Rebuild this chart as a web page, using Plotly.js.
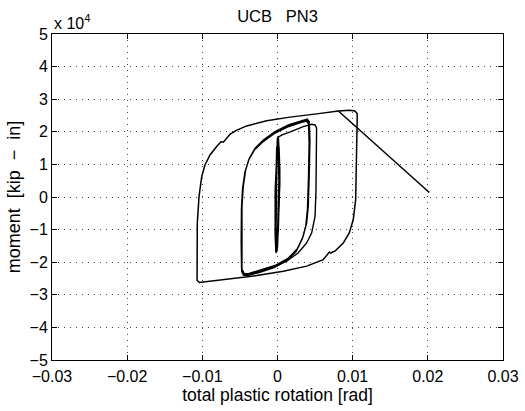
<!DOCTYPE html>
<html>
<head>
<meta charset="utf-8">
<script src="https://cdn.plot.ly/plotly-3.0.1.min.js"></script>
<style>html,body{margin:0;padding:0;background:#fff;}#chart{width:525px;height:411px;}</style>
</head>
<body>
<div id="chart"></div>
<script>
// total plastic rotation [rad] and moment [x 10^4 kip-in]
// small elastic cycles near zero
var spikeX = [-0.0002, 0.0000, 0.0002, 0.0003, 0.0002, 0.0001, -0.0001, -0.0002, -0.0003, -0.0003, -0.0002,
              -0.0001, 0.0001, 0.0002, 0.0003, 0.0002, 0.0000, -0.0001, -0.0003, -0.0003, -0.0002, -0.0001,
              0.0000, 0.0001, 0.00025, 0.00025, 0.0001, -0.0001, -0.0002, -0.00025, -0.0002, -0.0001,
              0.0000, 0.0001, 0.0002, 0.0001, 0.0000, -0.0001, -0.0002, -0.0002, -0.0001,
              0.0000, 0.0001, 0.0003, 0.0002, 0.0001];
var spikeY = [-1.72, -1.20, -0.30, 0.60, 1.40, 1.85, 1.30, 0.50, -0.40, -1.20, -1.70,
              -1.65, -1.00, -0.10, 0.80, 1.50, 1.82, 1.20, 0.20, -0.80, -1.45, -1.68,
              -1.50, -0.80, 0.20, 1.00, 1.70, 1.50, 0.80, -0.20, -1.10, -1.60,
              -1.30, -0.40, 0.50, 1.40, 1.80, 1.00, 0.00, -0.90, -1.55,
              -1.40, -0.60, 0.40, 1.30, 1.84];
// first cycle at ~0.005 rad
var loopBX = [0.0001, 0.00055, 0.0017, 0.00343, 0.00455, 0.0050, 0.0052, 0.0052, 0.00512, 0.0050, 0.00485, 0.0048, 0.00455,
              0.00388, 0.00277, 0.00122, -0.00056, -0.00233, -0.00388, -0.0044, -0.0047];
var loopBY = [1.84, 1.90, 2.00, 2.16, 2.23, 2.21, 2.11, 1.24, 0.22, -0.59, -0.80, -0.86, -1.10,
              -1.41, -1.71, -1.97, -2.15, -2.28, -2.38, -2.37, -2.24];
// repeated cycles at ~0.0045 rad
var loopAX = [-0.00472, -0.00476, -0.00472, -0.00455, -0.00423, -0.00375, -0.00299, -0.00189, -0.00033, 0.00144, 0.00322, 0.00396, 0.00423,
              0.00432, 0.00423, 0.00410, 0.00388, 0.00343, 0.00263, 0.00144, -0.00033, -0.00233, -0.00388, -0.00445, -0.00472,
              -0.00480, -0.00478, -0.00462, -0.00430, -0.00382, -0.00306, -0.00196, -0.00040, 0.00136, 0.00315, 0.00390, 0.00416,
              0.00425, 0.00416, 0.00402, 0.00380, 0.00335, 0.00255, 0.00136, -0.00040, -0.00240, -0.00395, -0.00452, -0.00478,
              -0.00484, -0.00480, -0.00466, -0.00434, -0.00386, -0.00310, -0.00200, -0.00045, 0.00130, 0.00310, 0.00386, 0.00412,
              0.00420, 0.00412, 0.00398, 0.00376, 0.00330, 0.00250, 0.00130, -0.00045, -0.00245, -0.00398, -0.00455, -0.00480];
var loopAY = [-2.03, -1.31, -0.29, 0.32, 0.83, 1.19, 1.50, 1.75, 2.01, 2.21, 2.34, 2.39, 2.31,
              1.75, 0.73, -0.29, -0.80, -1.20, -1.59, -1.87, -2.10, -2.25, -2.35, -2.35, -2.22,
              -1.35, -0.33, 0.28, 0.79, 1.15, 1.46, 1.71, 1.97, 2.17, 2.31, 2.36, 2.28,
              1.70, 0.68, -0.34, -0.85, -1.25, -1.64, -1.92, -2.14, -2.29, -2.38, -2.38, -2.25,
              -1.38, -0.36, 0.25, 0.76, 1.12, 1.43, 1.68, 1.94, 2.14, 2.28, 2.33, 2.25,
              1.66, 0.64, -0.37, -0.88, -1.28, -1.67, -1.95, -2.17, -2.32, -2.41, -2.40, -2.27];
// large cycle at ~0.0105 rad
var outerX = [0.0081, 0.0096, 0.0103, 0.0106, 0.0106, 0.01053, 0.0104, 0.01008, 0.00955, 0.00875, 0.00765, 0.0074, 0.0071, 0.0069, 0.0066,
              0.00609, 0.00388, 0.00077, -0.00277, -0.00632, -0.00987, -0.0104, -0.0107, -0.0107, -0.01067, -0.01067, -0.01044,
              -0.01008, -0.00964, -0.00898, -0.00809, -0.0075, -0.0072, -0.0069, -0.0063, -0.0054, -0.0041, -0.00144, 0.00166, 0.00521, 0.0081];
var outerY = [2.64, 2.66, 2.64, 2.56, 2.40, 0.73, -0.08, -0.69, -1.10, -1.41, -1.66, -1.68, -1.72, -1.69, -1.79,
              -1.92, -2.12, -2.28, -2.41, -2.51, -2.61, -2.62, -2.56, -2.30, -1.61, -0.80, 0.02,
              0.63, 0.99, 1.29, 1.55, 1.70, 1.68, 1.76, 1.93, 2.05, 2.18, 2.34, 2.45, 2.55, 2.64];
// final drop
var failX = [0.0081, 0.0202];
var failY = [2.64, 0.14];

var xTicks = [-0.03, -0.02, -0.01, 0, 0.01, 0.02, 0.03];
var yTicks = [-5, -4, -3, -2, -1, 0, 1, 2, 3, 4, 5];

function tr(x, y, w) {
  return {x: x, y: y, type: 'scatter', mode: 'lines', line: {color: '#000', width: w}, hoverinfo: 'skip', showlegend: false};
}
var data = [tr(spikeX, spikeY, 1.6), tr(loopBX, loopBY, 1.4), tr(loopAX, loopAY, 1.3), tr(outerX, outerY, 1.5), tr(failX, failY, 1.5)];

var font = {family: 'Liberation Sans, Arial, Helvetica, sans-serif', size: 16, color: '#000'};
var axisCommon = {
  showline: true, mirror: 'ticks', linecolor: '#000', linewidth: 1,
  ticks: 'inside', ticklen: 5, tickcolor: '#000', tickwidth: 1,
  showgrid: true, gridcolor: '#444', griddash: '1px,5px', gridwidth: 1,
  zeroline: false, tickfont: font
};
var layout = {
  width: 525, height: 411,
  margin: {l: 52, r: 22, t: 34, b: 51},
  paper_bgcolor: '#fff', plot_bgcolor: '#fff',
  font: font,
  title: {text: 'UCB   PN3', font: {family: font.family, size: 16.5, color: '#000'}, x: 0.5, xref: 'paper', y: 0.96, yref: 'container', yanchor: 'middle'},
  xaxis: Object.assign({}, axisCommon, {range: [-0.03, 0.03], tickvals: xTicks, ticklabelstandoff: 2, ticktext: xTicks.map(function(v){return v === 0 ? '0' : (v < 0 ? '\u2212' + (-v).toFixed(2) : v.toFixed(2));}),
    title: {text: 'total plastic rotation [rad]', font: {family: font.family, size: 17.5, color: '#000'}, standoff: 1}}),
  yaxis: Object.assign({}, axisCommon, {range: [-5, 5], tickvals: yTicks, ticktext: yTicks.map(function(v){return v < 0 ? '\u2212' + (-v) : String(v);}),
    title: {text: 'moment  [kip  \u2212  in]', font: {family: font.family, size: 18, color: '#000'}, standoff: 4}}),
  annotations: [{text: 'x 10<sup>4</sup>', xref: 'paper', yref: 'paper', x: 0, y: 1, xanchor: 'left', yanchor: 'bottom', showarrow: false, font: font}]
};
Plotly.newPlot('chart', data, layout, {displayModeBar: false, staticPlot: true});
</script>
</body>
</html>
